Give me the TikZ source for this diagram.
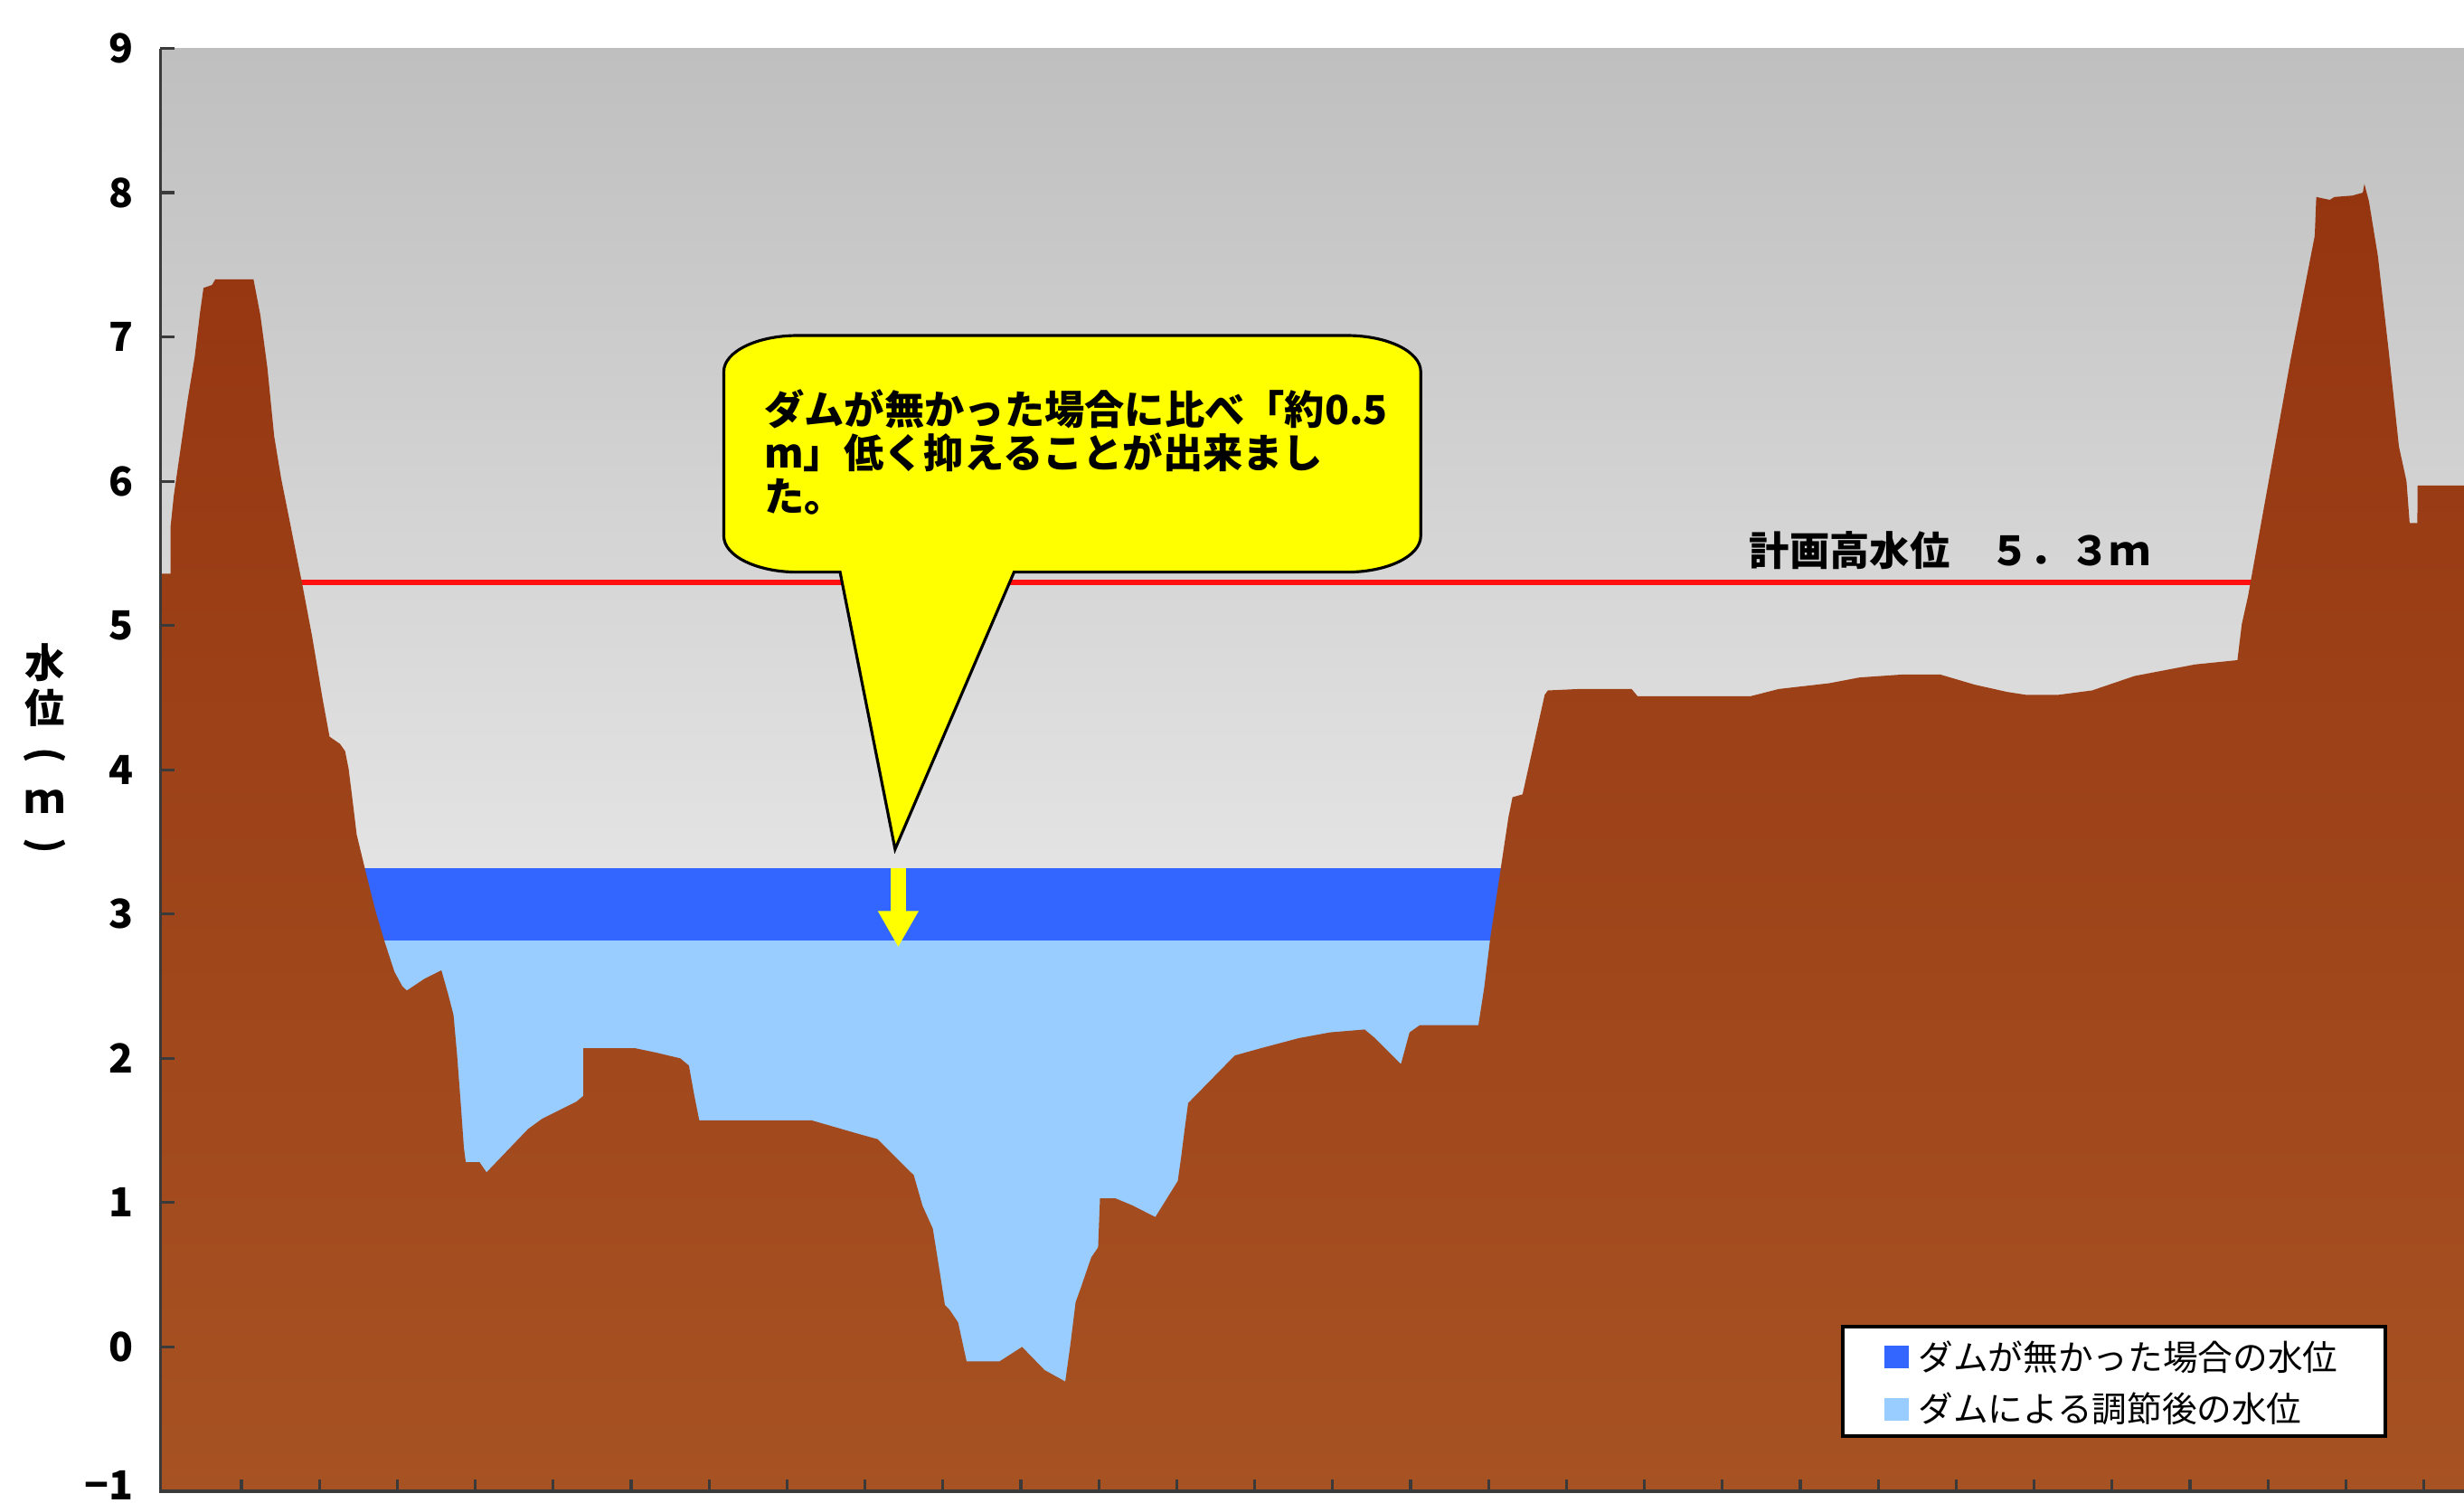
\documentclass[tikz,border=0pt]{standalone}
\usepackage{fontspec}
\setmainfont{Noto Sans CJK JP}
\usepackage{tikz}
\usetikzlibrary{arrows.meta}
\usetikzlibrary{positioning}

\definecolor{skytop}{HTML}{BFBFBF}
\definecolor{skybot}{HTML}{FFFFFF}
\definecolor{earthtop}{HTML}{953510}
\definecolor{earthbot}{HTML}{A75223}
\definecolor{nodam}{HTML}{3366FF}
\definecolor{withdam}{HTML}{99CCFF}
\definecolor{hwl}{HTML}{FF1010}
\definecolor{axisgray}{HTML}{3A3A3A}
\definecolor{balloonyellow}{HTML}{FFFF00}

\begin{document}
\begin{tikzpicture}[x=0.01738cm, y=1.5955cm,
			ground/.style={top color=earthtop, bottom color=earthbot, draw=none},
			axisline/.style={draw=axisgray, line width=0.9pt},
			ticklbl/.style={anchor=east, inner sep=0, font=\fontsize{12.6}{13}\selectfont\bfseries},
			bigtxt/.style={inner sep=0, font=\fontsize{12.6}{13.6}\selectfont\bfseries},
			legendtxt/.style={anchor=west, inner sep=0, font=\fontsize{11}{12}\selectfont},
			swatch/.style={minimum width=0.27cm, minimum height=0.25cm, inner sep=0}]
		\useasboundingbox (0,-1.0784) rectangle (1568,9.3355);

		\shade[top color=skytop, bottom color=skybot] (102,-1) rectangle (1568,9);
		\draw[hwl, line width=1.6pt] (102,5.3) -- (1568,5.3);

		\fill[withdam] (102,-1) rectangle (1000,2.816);
		\fill[nodam] (102,2.816) rectangle (1000,3.32);

		\shade[ground] (102,-1) -- (102,5.36) -- (108.5,5.36) -- (108.5,5.68) -- (110.6,5.90)
			-- (115.1,6.24) -- (119.5,6.57) -- (123.9,6.86) -- (127.2,7.16) -- (129.5,7.34)
			-- (134.9,7.36) -- (137,7.40) -- (161.3,7.40) -- (165.7,7.15) -- (170.1,6.79)
			-- (174.5,6.31) -- (178.9,6.02) -- (185.5,5.66) -- (192.1,5.30) -- (198.7,4.92)
			-- (205.3,4.49) -- (209.7,4.23) -- (216.3,4.18) -- (219.6,4.13) -- (221.8,4.01)
			-- (224,3.82) -- (227,3.55) -- (233,3.28) -- (239,3.02) -- (245,2.80) -- (251,2.60)
			-- (256,2.50) -- (258.9,2.47) -- (269.9,2.55) -- (280.9,2.61) -- (285.3,2.44)
			-- (288.6,2.30) -- (290.9,2.02) -- (293.1,1.70) -- (295.2,1.38) -- (296.4,1.28)
			-- (305.2,1.28) -- (309.6,1.21) -- (336,1.51) -- (344.8,1.58) -- (366.8,1.70)
			-- (371.2,1.74) -- (371.2,2.07) -- (404.3,2.07) -- (417.5,2.04) -- (432.9,2.00)
			-- (438.4,1.95) -- (441.7,1.75) -- (445,1.57) -- (516.6,1.57) -- (545.2,1.48)
			-- (558.4,1.44) -- (581.5,1.19) -- (587,0.98) -- (593.6,0.82) -- (598,0.52)
			-- (601.3,0.29) -- (604.1,0.26) -- (609.7,0.17) -- (615.1,-0.10) -- (636.1,-0.10)
			-- (650.4,0.00) -- (664.7,-0.16) -- (677.9,-0.24) -- (681.2,0.02) -- (684.5,0.31)
			-- (687.8,0.41) -- (694.4,0.62) -- (698.8,0.69) -- (700,1.03) -- (709.8,1.03)
			-- (720.8,0.98) -- (735.2,0.90) -- (749.5,1.15) -- (751.7,1.32) -- (753.9,1.51)
			-- (756.1,1.69) -- (785.8,2.02) -- (802.3,2.07) -- (826.5,2.14) -- (846.4,2.18)
			-- (868.4,2.20) -- (875,2.14) -- (891.5,1.96) -- (897,2.18) -- (903.5,2.23)
			-- (940.8,2.23) -- (944.5,2.49) -- (948.3,2.83) -- (954.8,3.30) -- (959.9,3.67)
			-- (962.5,3.81) -- (968.9,3.83) -- (983,4.52) -- (985,4.55) -- (1004.8,4.56)
			-- (1038.3,4.56) -- (1042.1,4.51) -- (1114,4.51) -- (1132,4.56) -- (1164.1,4.60)
			-- (1183.4,4.64) -- (1210.3,4.66) -- (1234.8,4.66) -- (1256.6,4.59) -- (1277.1,4.54)
			-- (1289,4.52) -- (1310.1,4.52) -- (1331.3,4.55) -- (1358.3,4.65) -- (1396.8,4.73)
			-- (1423.8,4.76) -- (1426.6,5.01) -- (1430.5,5.20) -- (1438.4,5.68) -- (1457.6,6.84)
			-- (1473,7.70) -- (1474,7.97) -- (1482.6,7.95) -- (1485.5,7.97) -- (1497,7.98)
			-- (1503.6,8.00) -- (1504.6,8.06) -- (1507.5,7.94) -- (1513.2,7.56) -- (1520,6.91)
			-- (1526.6,6.24) -- (1531.4,6.00) -- (1533.4,5.71) -- (1538.3,5.71) -- (1538.5,5.97)
			-- (1568,5.97) -- (1568,-1) -- cycle;

		\draw[axisline, line width=1pt] (102,9) -- (102,-1) -- (1568,-1);
		\foreach \v in {-1,...,9}
			\draw[axisline] (102,\v) -- (111,\v);
		\foreach \k in {0,...,28}
			\draw[axisline] ({153.6+49.6*\k},-1) -- ({153.6+49.6*\k},-0.92);

		\foreach \v in {0,...,9}
			\node (ylab\v) [ticklbl] at (85,\v) {\v};
		\node (ylabneg) [ticklbl] at (85,-0.96) {−1};
		\node (ytitle) [bigtxt, align=center, font=\fontsize{12.6}{14.2}\selectfont\bfseries] at (28.8,4.13)
		{水\\位\\\rotatebox[origin=c]{-90}{(}\\ｍ\\\rotatebox[origin=c]{-90}{)}};

		\filldraw[fill=balloonyellow, draw=black, line width=0.9pt] (507.6,7.01) -- (857.1,7.01)
			arc[start angle=90, end angle=0, x radius=47, y radius=0.25] -- (904.1,5.62)
			arc[start angle=0, end angle=-90, x radius=47, y radius=0.25] -- (645.3,5.37)
			-- (569.6,3.45) -- (534.6,5.37) -- (507.6,5.37)
			arc[start angle=270, end angle=180, x radius=47, y radius=0.25] -- (460.6,6.76)
			arc[start angle=180, end angle=90, x radius=47, y radius=0.25] -- cycle;
		\node (note) [bigtxt, anchor=north west, align=left] at (486,6.64)
		{ダムが無かった場合に比べ「約0.5\\m」低く抑えることが出来まし\\た。};

		\coordinate (dropstart) at (571.6,3.32);
		\coordinate (dropend) at (571.6,2.77);
		\draw[balloonyellow, line width=0.17cm, -{Triangle[width=0.42cm, length=0.4cm]}] (dropstart) -- (dropend);

		\node (hwllabel) [bigtxt, anchor=west] at (1113,5.52) {計画高水位　５．３ｍ};

		\node (legendbox) [draw=black, line width=1.1pt, fill=white, minimum width=6.0cm, minimum height=1.21cm, inner sep=0] at (1345.3,-0.24) {};
		\node (keynodam) [swatch, fill=nodam] at (1207,-0.07) {};
		\node (keywithdam) [swatch, fill=withdam] at (1207,-0.43) {};
		\node (txtnodam) [legendtxt, right=0.09cm of keynodam] {ダムが無かった場合の水位};
		\node (txtwithdam) [legendtxt, right=0.09cm of keywithdam] {ダムによる調節後の水位};
	\end{tikzpicture}
\end{document}
